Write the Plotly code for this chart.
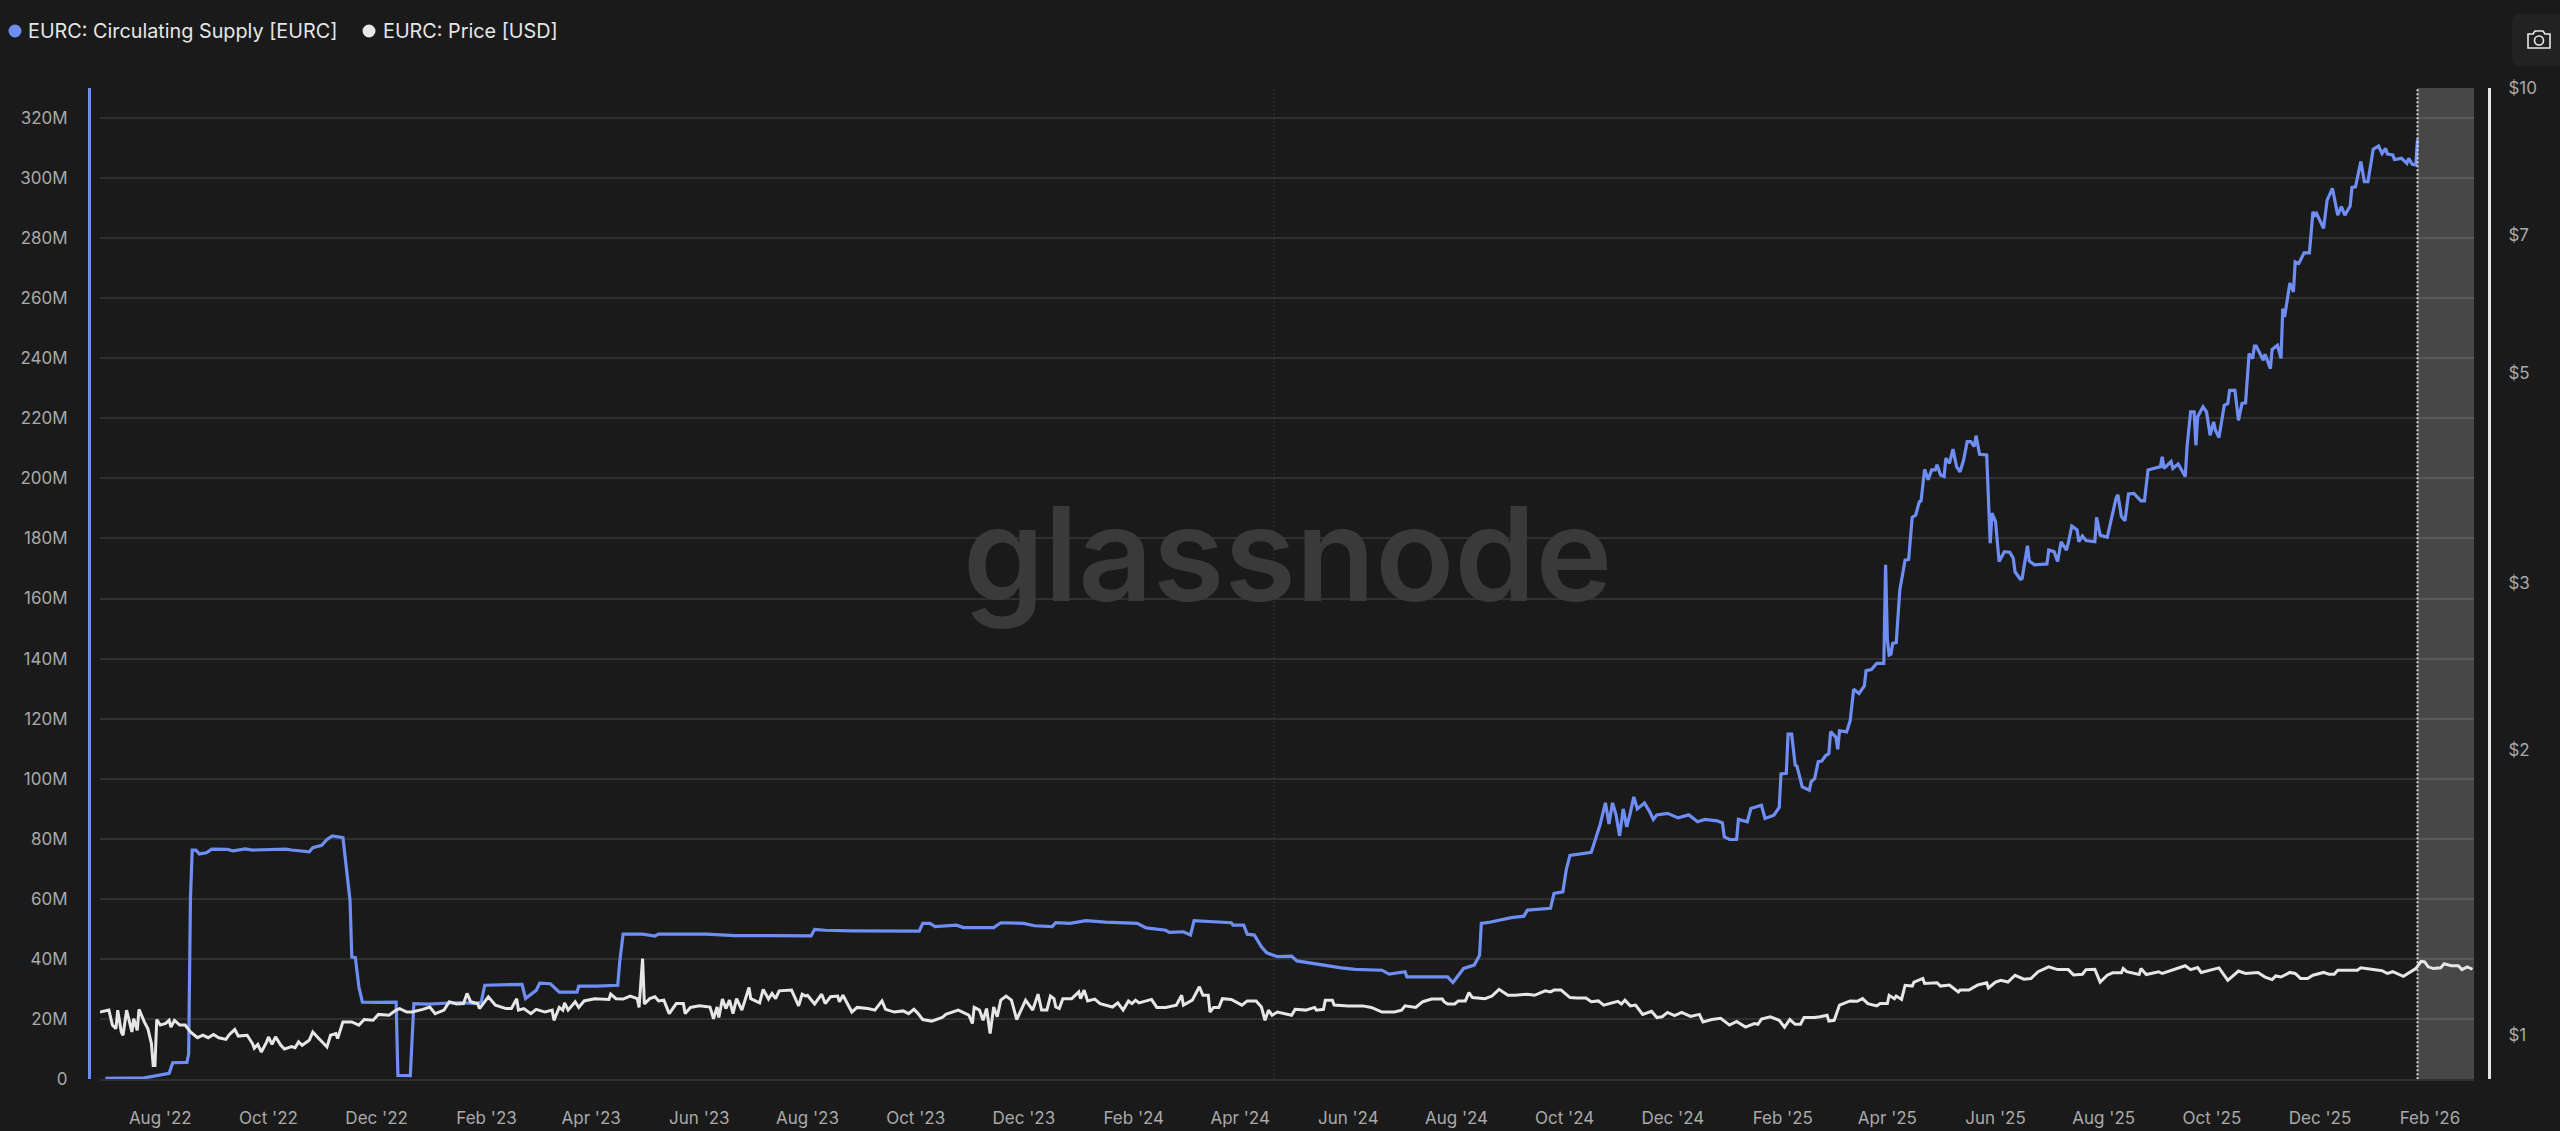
import pandas as pd
import plotly.graph_objects as go

W, H = 2560, 1131
START = pd.Timestamp("2022-06-28")

# ---- data: days since START ----
supply_days = [3,25,32,39,41,49,50,51,52,54,56,60,63,72,75,82,86,96,105,108,116,118,120,125,128,131,137,139,141,142,144,146,148,156,167,168,175,177,185,197,204,212,215,217,238,240,246,248,254,259,269,270,280,292,293,295,306,313,315,342,358,378,395,401,403,409,424,441,462,464,468,471,483,487,504,508,521,527,537,539,547,556,567,585,590,601,603,611,615,617,625,638,639,645,647,651,655,658,664,672,675,691,700,708,723,727,736,737,749,760,763,769,775,778,779,783,796,803,805,818,820,825,826,827,829,841,846,849,851,853,855,857,859,861,863,865,867,869,871,874,876,878,884,890,896,901,
905,912,915,916,919,923,924,929,931,937,939,944,947,948,951,952,954,956,957,960,964,965,967,969,971,973,975,976,979,980,981,985,987,989,992,995,996,999,1002,1006,1007,1008,1009,1010,1011,1013,1015,1018,1020,1022,1024,1026,1027,1029,1031,1033,1035,1036,1038,1040,1041,1043,1045,1047,1049,1051,1053,1055,1057,1058,1060,1064,1066,1067,1069,1071,1074,1077,1079,1080,1083,1084,1087,1088,1091,1098,1099,1102,1104,1106,1109,1110,1112,1115,1116,1118,1120,1125,1126,1128,1132,1134,1137,1138,1140,1142,1144,1147,1151,1153,1155,1162,1163,1164,1168,1169,1172,1176,1177,1179,1181,1182,1183,1186,1188,1190,1192,1193,1195,1198,1200,1201,1204,1206,1208,1210,1212,1214,1215,1216,1220,1221,1224,1225,1228,1230,1231,1232,1235,1237,1238,1240,1243,1246,1248,1249,1250,1254,1256,1259,1262,1264,1266,1269,1270,1272,1275,1277,1279,1282,1285,1287,1289,1290,1293,1294,1298,1301,1302,1304,1306,1307]
supply_values = [0.3,0.5,1.2,2,5.5,5.6,8.5,60,76.3,76.3,75,75.4,76.6,76.5,76,76.7,76.3,76.5,76.6,76.3,75.9,75.7,77.1,77.9,79.8,81,80.4,70.7,59.6,40.7,40.5,30.7,25.7,25.6,25.7,1.3,1.2,25.2,25,25.4,25.5,25.2,25.7,31.3,31.6,26.9,29.6,32,31.8,29,29,31,31,31.3,38.5,48.3,48.3,47.7,48.3,48.3,47.8,47.8,47.7,47.7,49.9,49.6,49.4,49.4,49.3,51.9,51.9,50.8,51.3,50.5,50.5,52.1,51.9,51.1,50.8,52.1,51.9,52.8,52.3,51.9,50.4,49.6,48.9,49.1,48,52.8,52.5,52.1,51.3,51.3,48.3,48,44.1,42.1,40.8,41,39.4,37.8,37.1,36.6,36.3,35,35.8,34.1,34.1,34.1,32.2,36.9,38,41.3,51.9,52.2,53.8,54.3,56.3,56.9,61.9,62.4,66.3,70,74.5,75.5,84.8,92,85,92,88,81,90,84,88.6,94,90,91,92,89,86.5,88,88.5,87,88,85.7,
86.5,86,85.3,80.7,79.8,79.8,86.5,85.7,90.1,91.2,86.8,87.9,90.5,101.6,101.8,114.9,114.9,104.6,104.2,97.3,96.2,99,100.1,105.7,105.9,107.6,108.4,115.7,113.8,109.8,116,115.6,119.3,129.8,128.4,130.9,136,136.4,138.4,138.4,171.2,146.2,141.2,141.5,145.1,145.3,162.8,172.8,173,187,187.8,192.2,192.5,203,199.5,202.8,202.8,204.5,201.1,200.6,206.7,205,209.7,203.9,202.2,206.1,212.2,212.2,210.6,214.2,208,207.8,178.4,188.4,185.6,172.3,175.6,175.4,173.4,168.9,166.4,166.7,177.6,172.5,171.2,171.5,176.1,175.6,172.3,178.9,176.1,178.4,184.1,182.8,178.9,180.8,179.3,178.9,187,181.1,180.4,185.6,193.4,194.5,187.3,185.9,194.8,195,192.5,192.5,202.8,203.9,207.2,203.3,205.6,203.3,204.8,200.6,210.5,222.1,222.1,211,220.5,223.8,222.1,214.3,218.8,216,213.6,224.3,224.9,229.3,229.3,219.3,224.9,225.1,241.5,239.9,244,244,239.3,241.3,236.5,242.9,244.3,239.9,256.5,253.7,265,262,272,271.5,275,275,288.7,287.6,288.2,283.2,292.6,296.5,287.6,290.4,287.6,290.6,296.8,297,305.4,298.7,298.7,309.5,310.6,308.1,309.8,307.9,307.6,306.1,306.5,304.8,306.5,304.5,304.3,312.8]

price_days = [0,5,7,9,10,12,13,15,18,19,21,22,25,27,29,30,31,32,34,37,39,40,42,45,48,51,55,58,61,64,67,71,73,76,78,83,86,87,89,91,94,95,97,99,102,104,108,110,112,114,118,120,123,128,130,133,134,137,142,146,149,154,157,163,167,169,173,176,182,186,189,194,197,201,205,207,209,213,214,219,223,229,232,235,236,239,243,246,251,255,256,259,261,262,264,268,
270,273,279,287,288,291,295,299,303,304,306,307,310,313,315,318,321,325,329,330,333,338,344,346,348,349,351,353,355,357,359,362,366,367,372,374,377,379,381,383,390,394,396,398,399,403,407,409,412,416,417,419,424,427,433,437,441,443,448,453,456,459,461,464,469,475,477,484,490,492,493,496,498,500,502,504,506,508,511,514,517,522,524,526,529,531,534,536,538,
539,541,543,548,552,553,555,557,561,564,568,571,574,577,580,582,584,586,593,596,601,607,610,611,616,620,622,625,626,628,631,633,638,644,647,652,655,657,659,661,664,668,672,674,680,685,686,690,691,695,696,704,712,717,723,730,734,736,742,746,751,757,758,760,764,766,770,772,774,781,785,789,794,798,805,809,
815,818,820,824,829,833,838,841,845,848,851,856,858,860,863,866,870,875,878,881,884,888,892,897,902,904,909,914,919,923,928,933,935,937,942,947,950,953,956,959,961,967,970,974,975,978,981,987,991,994,997,1002,1004,1008,1009,1012,1013,1016,1018,1022,1023,1028,1029,1036,1038,1043,1048,1049,1054,1059,1064,1065,1069,1072,1076,1080,
1085,1089,1093,1099,1104,1110,1113,1118,1120,1125,1128,1132,1135,1140,1141,1143,1150,1151,1154,1161,1163,1168,1176,1179,1183,1185,1195,1200,1206,1210,1217,1221,1225,1227,1230,1235,1238,1241,1245,1248,1254,1257,1260,1262,1273,1275,1287,1290,1293,1299,1304,1306,1309,1311,1313,1316,1320,1322,1326,1330,1332,1335,1338]
price_values = [1.058,1.063,1.025,1.016,1.063,1.008,1.000,1.063,1.008,1.041,1.012,1.065,1.033,1.016,0.980,0.929,0.929,1.039,1.025,1.029,1.037,1.020,1.037,1.025,1.025,1.008,0.994,1.000,0.994,1.002,0.994,0.990,1.002,1.014,0.998,1.000,0.980,0.969,0.978,0.960,0.984,0.996,0.978,0.996,0.976,0.967,0.973,0.970,0.984,0.976,0.988,1.008,0.994,0.972,1.000,1.004,0.992,1.033,1.033,1.025,1.039,1.037,1.052,1.050,1.063,1.067,1.058,1.058,1.065,1.071,1.054,1.063,1.085,1.079,1.080,1.107,1.085,1.080,1.067,1.098,1.076,1.067,1.067,1.093,1.063,1.067,1.054,1.065,1.058,1.063,1.037,1.070,1.063,1.082,1.063,1.085,
1.070,1.087,1.093,1.091,1.105,1.093,1.092,1.100,1.093,1.070,1.205,1.079,1.093,1.098,1.087,1.089,1.054,1.080,1.080,1.054,1.070,1.074,1.071,1.041,1.071,1.044,1.092,1.067,1.089,1.054,1.093,1.063,1.123,1.093,1.082,1.118,1.092,1.107,1.093,1.114,1.116,1.074,1.105,1.100,1.102,1.079,1.105,1.080,1.098,1.100,1.085,1.102,1.058,1.070,1.067,1.063,1.087,1.065,1.058,1.061,1.054,1.065,1.056,1.039,1.035,1.044,1.052,1.063,1.050,1.029,1.070,1.063,1.037,1.067,1.004,1.071,1.046,1.089,1.100,1.089,1.039,1.089,1.076,1.063,1.105,1.063,1.063,1.100,1.093,
1.071,1.067,1.093,1.093,1.111,1.093,1.116,1.087,1.092,1.080,1.076,1.071,1.082,1.063,1.087,1.080,1.089,1.082,1.091,1.070,1.070,1.076,1.102,1.076,1.089,1.125,1.102,1.102,1.058,1.070,1.070,1.093,1.091,1.076,1.087,1.087,1.071,1.037,1.063,1.050,1.058,1.054,1.050,1.065,1.063,1.070,1.063,1.065,1.089,1.089,1.076,1.074,1.074,1.070,1.058,1.058,1.063,1.074,1.070,1.085,1.092,1.092,1.085,1.079,1.079,1.087,1.087,1.109,1.096,1.093,1.100,1.118,1.102,1.102,1.105,1.102,
1.114,1.111,1.116,1.116,1.096,1.095,1.095,1.085,1.087,1.076,1.079,1.086,1.079,1.089,1.074,1.076,1.052,1.060,1.044,1.046,1.057,1.049,1.057,1.047,1.052,1.033,1.039,1.042,1.025,1.034,1.020,1.029,1.027,1.040,1.046,1.037,1.020,1.039,1.027,1.027,1.044,1.044,1.046,1.050,1.035,1.037,1.076,1.087,1.086,1.093,1.080,1.074,1.080,1.080,1.102,1.093,1.100,1.091,1.129,1.127,1.138,1.148,1.134,1.136,1.127,1.130,1.111,1.116,1.116,1.130,1.136,1.122,1.138,1.143,1.138,1.157,
1.146,1.148,1.167,1.181,1.173,1.173,1.158,1.160,1.173,1.174,1.138,1.157,1.164,1.164,1.176,1.167,1.159,1.176,1.159,1.167,1.162,1.170,1.184,1.173,1.179,1.165,1.178,1.143,1.169,1.162,1.165,1.152,1.145,1.155,1.152,1.165,1.162,1.148,1.148,1.157,1.165,1.160,1.160,1.171,1.171,1.178,1.170,1.162,1.167,1.154,1.171,1.176,1.197,1.195,1.181,1.176,1.178,1.190,1.184,1.184,1.173,1.181,1.174]

date_ticks = ["2022-08-01","2022-10-01","2022-12-01","2023-02-01","2023-04-01","2023-06-01","2023-08-01","2023-10-01","2023-12-01","2024-02-01","2024-04-01","2024-06-01","2024-08-01","2024-10-01","2024-12-01","2025-02-01","2025-04-01","2025-06-01","2025-08-01","2025-10-01","2025-12-01","2026-02-01"]
date_labels = ["Aug '22","Oct '22","Dec '22","Feb '23","Apr '23","Jun '23","Aug '23","Oct '23","Dec '23","Feb '24","Apr '24","Jun '24","Aug '24","Oct '24","Dec '24","Feb '25","Apr '25","Jun '25","Aug '25","Oct '25","Dec '25","Feb '26"]
supply_ticks = list(range(0, 321, 20))
supply_labels = ["0"] + [f"{v}M" for v in supply_ticks[1:]]
price_ticks = [1, 2, 3, 5, 7, 10]
price_labels = ["$1", "$2", "$3", "$5", "$7", "$10"]

SUPPLY_NAME = "EURC: Circulating Supply [EURC]"
PRICE_NAME = "EURC: Price [USD]"
HALVING = "2024-04-20"
SHADE_START = "2026-01-25"
X_RANGE = ["2022-06-28", "2026-02-25 20:00"]
Y_TOP = 329.9e6

# ---- style ----
BG = "#1a1a1a"
BLUE = "#6f8ef5"
WHITE = "#e6e6e6"
GRID = "#303030"
TICK = "#a9a9a9"
FONT = "Inter"

def px(x):
    return x / W

def py(y):
    return 1 - y / H

def to_dates(days):
    return START + pd.to_timedelta(days, unit="D")

fig = go.Figure()
fig.add_trace(go.Scatter(x=to_dates(supply_days), y=[v * 1e6 for v in supply_values],
                         name=SUPPLY_NAME, mode="lines", line=dict(color=BLUE, width=3.2), yaxis="y"))
fig.add_trace(go.Scatter(x=to_dates(price_days), y=price_values,
                         name=PRICE_NAME, mode="lines", line=dict(color=WHITE, width=3), yaxis="y2"))

shapes = [
    dict(type="rect", xref="x", yref="y", x0=SHADE_START, x1=X_RANGE[1], y0=0, y1=Y_TOP,
         fillcolor="rgba(255,255,255,0.2)", line_width=0, layer="between"),
    dict(type="line", xref="x", yref="y", x0=SHADE_START, x1=SHADE_START, y0=0, y1=Y_TOP,
         line=dict(color="#dddddd", width=2, dash="2px,2px"), layer="above"),
    dict(type="line", xref="x", yref="y", x0=HALVING, x1=HALVING, y0=0, y1=Y_TOP,
         line=dict(color="#3c3c3c", width=1, dash="2px,2px"), layer="between"),
    # legend dots
    dict(type="circle", xref="paper", yref="paper", x0=px(8.5), x1=px(21.5), y0=py(37.5), y1=py(24.5),
         fillcolor=BLUE, line_width=0),
    dict(type="circle", xref="paper", yref="paper", x0=px(362.5), x1=px(375.5), y0=py(37.5), y1=py(24.5),
         fillcolor=WHITE, line_width=0),
    # camera button
    dict(type="path", xref="paper", yref="paper", fillcolor="#222222", line_width=0,
         path=f"M{px(2520)},{py(14)} L{px(2560)},{py(14)} L{px(2560)},{py(66)} L{px(2520)},{py(66)} "
              f"Q{px(2512)},{py(66)} {px(2512)},{py(58)} L{px(2512)},{py(22)} Q{px(2512)},{py(14)} {px(2520)},{py(14)} Z"),
    dict(type="path", xref="paper", yref="paper", line=dict(color="#e8e8e8", width=1.6),
         path=f"M{px(2528)},{py(34)} L{px(2533)},{py(34)} L{px(2535)},{py(31)} L{px(2543)},{py(31)} L{px(2545)},{py(34)} "
              f"L{px(2550)},{py(34)} L{px(2550)},{py(48)} L{px(2528)},{py(48)} Z"),
    dict(type="circle", xref="paper", yref="paper", x0=px(2534.5), x1=px(2543.5), y0=py(45), y1=py(36),
         line=dict(color="#e8e8e8", width=1.6)),
]

annotations = [
    dict(text="glassnode", xref="paper", yref="paper", x=px(1288), y=py(553), showarrow=False,
         xanchor="center", yanchor="middle", font=dict(family=FONT, size=130, color="#3a3a3a", weight=600)),
    dict(text=SUPPLY_NAME, xref="paper", yref="paper", x=px(28), y=py(31), showarrow=False,
         xanchor="left", yanchor="middle", xshift=-2, font=dict(family=FONT, size=19.8, color=WHITE)),
    dict(text=PRICE_NAME, xref="paper", yref="paper", x=px(383), y=py(31), showarrow=False,
         xanchor="left", yanchor="middle", xshift=-2, font=dict(family=FONT, size=19.8, color=WHITE)),
]

dom_y = [py(1079.3), py(88)]
fig.update_layout(
    width=W, height=H, margin=dict(l=0, r=0, t=0, b=0, pad=0), autosize=False,
    paper_bgcolor=BG, plot_bgcolor=BG, showlegend=False, hovermode=False,
    font=dict(family=FONT, color=TICK, size=17),
    shapes=shapes, annotations=annotations,
    xaxis=dict(type="date", domain=[px(100), px(2474)], range=X_RANGE, tickmode="array",
               tickvals=date_ticks, ticktext=date_labels, showgrid=False, zeroline=False,
               showline=True, linecolor=GRID, linewidth=2, ticks="", ticklabelstandoff=22,
               tickfont=dict(family=FONT, size=17, color=TICK), automargin=False, anchor="y"),
    yaxis=dict(domain=dom_y, range=[0, Y_TOP], tickmode="array", tickvals=[v * 1e6 for v in supply_ticks],
               ticktext=supply_labels, showgrid=True, gridcolor=GRID, gridwidth=2, zeroline=False,
               showline=True, linecolor=BLUE, linewidth=3, anchor="free", position=px(89), side="left",
               ticks="", ticklabelstandoff=17, tickfont=dict(family=FONT, size=17, color=TICK), automargin=False),
    yaxis2=dict(domain=dom_y, type="log", range=[-0.0465, 1.0], tickmode="array", tickvals=price_ticks,
                ticktext=price_labels, showgrid=False, zeroline=False, overlaying="y",
                showline=True, linecolor="#e5e5e5", linewidth=3, anchor="free", position=px(2489), side="right",
                ticks="", ticklabelstandoff=14, tickfont=dict(family=FONT, size=17, color=TICK), automargin=False),
)

fig.write_html("out.html", config={"displayModeBar": False},
               post_script=f"document.body.style.margin='0';document.body.style.background='{BG}';document.documentElement.style.overflow='hidden';")
